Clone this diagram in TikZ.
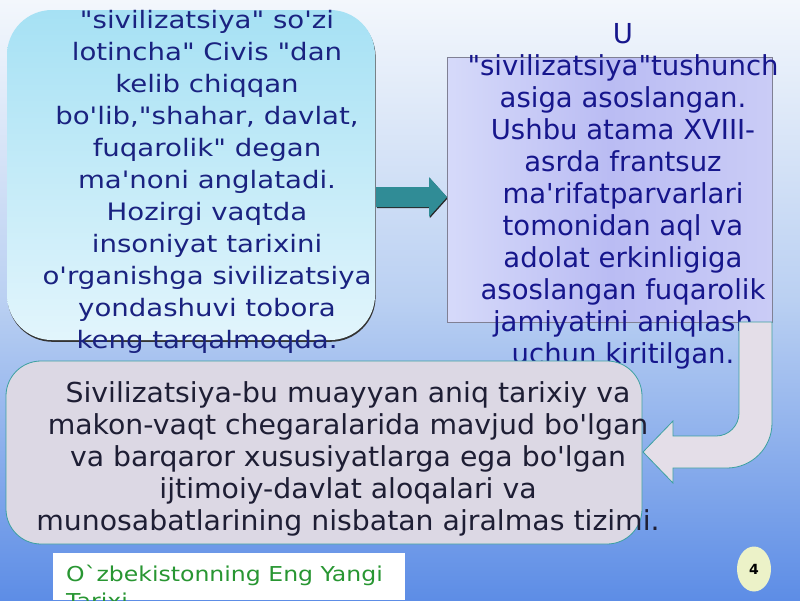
\documentclass[tikz,border=0pt]{standalone}
\usepackage{fontspec}
\newfontfamily\slidefont{DejaVu Sans}
\newfontfamily\widefont[FakeStretch=1.15]{DejaVu Sans}
\newfontfamily\bodyfont[FakeStretch=1.03]{DejaVu Sans}
\usetikzlibrary{shapes.geometric,shadows}

\definecolor{skytop}{RGB}{243,247,252}
\definecolor{skymid}{RGB}{186,208,242}
\definecolor{skybot}{RGB}{93,141,230}
\definecolor{cyantop}{RGB}{166,225,244}
\definecolor{cyanbot}{RGB}{226,245,252}
\definecolor{navy}{RGB}{26,34,128}
\definecolor{inkblue}{RGB}{22,22,140}
\definecolor{inkdark}{RGB}{30,30,52}
\definecolor{lavleft}{RGB}{214,218,250}
\definecolor{lavmid}{RGB}{186,188,243}
\definecolor{lavright}{RGB}{202,204,246}
\definecolor{arrowteal}{RGB}{48,140,150}
\definecolor{edgeteal}{RGB}{60,160,160}
\definecolor{greybox}{RGB}{220,216,228}
\definecolor{uturn}{RGB}{228,222,232}
\definecolor{footgreen}{RGB}{40,150,50}
\definecolor{pagedot}{RGB}{236,242,200}

\begin{document}
\begin{tikzpicture}[x=1pt, y=-1pt,
    leftbox/.style={rounded corners=45pt, top color=cyantop, bottom color=cyanbot,
        drop shadow={shadow xshift=0.6pt, shadow yshift=-1.8pt, fill=black!80, opacity=1}},
    rightbox/.style={left color=lavleft, right color=lavright, middle color=lavmid,
        draw={rgb,255:red,128;green,128;blue,148}, line width=0.8pt},
    bottombox/.style={rounded corners=35pt, fill=greybox, draw=edgeteal, line width=0.8pt},
    pusharrow/.style={fill=arrowteal,
        drop shadow={shadow xshift=0.8pt, shadow yshift=-1.2pt, fill=black!85, opacity=1}},
    uarrow/.style={fill=uturn, draw=edgeteal, line width=0.8pt},
    boxtext/.style={inner sep=0pt, align=center, anchor=north}]

    % slide background
    \useasboundingbox (0,0) rectangle (800,600);
    \shade[top color=skytop, bottom color=skybot, middle color=skymid] (0,0) rectangle (800,600);

    % left box
    \node (civis) [leftbox, minimum width=368pt, minimum height=330pt] at (191,175) {};
    \node (civistext) [boxtext, text=navy, font=\widefont\fontsize{24pt}{32pt}\selectfont] at (207,9.8)
        {"sivilizatsiya" so'zi\\
         lotincha" Civis "dan\\
         kelib chiqqan\\
         bo'lib,"shahar, davlat,\\
         fuqarolik" degan\\
         ma'noni anglatadi.\\
         Hozirgi vaqtda\\
         insoniyat tarixini\\
         o'rganishga sivilizatsiya\\
         yondashuvi tobora\\
         keng tarqalmoqda.};

    % arrow to the right box
    \path[pusharrow] (376,187) -- (429,187) -- (429,177) -- (447,197) -- (429,217) -- (429,207) -- (376,207) -- cycle;

    % right box
    \node (term) [rightbox, minimum width=325pt, minimum height=265pt] at (609.5,189.5) {};
    \node (termtext) [boxtext, text=inkblue, font=\slidefont\fontsize{27.5pt}{32pt}\selectfont] at (623,23)
        {U\\
         "sivilizatsiya"tushunch\\
         asiga asoslangan.\\
         Ushbu atama XVIII-\\
         asrda frantsuz\\
         ma'rifatparvarlari\\
         tomonidan aql va\\
         adolat erkinligiga\\
         asoslangan fuqarolik\\
         jamiyatini aniqlash\\
         uchun kiritilgan.};

    % turn-back arrow
    \draw[uarrow] (772,322) -- (772,423) arc[start angle=0, end angle=90, radius=45]
        -- (673,468) -- (673,483) -- (643,452) -- (673,421) -- (673,436) -- (716,436)
        arc[start angle=90, end angle=0, radius=23] -- (739,322) -- cycle;

    % bottom box
    \node (define) [bottombox, minimum width=636pt, minimum height=183pt] at (324,452.5) {};
    \node (definetext) [boxtext, text=inkdark, font=\bodyfont\fontsize{27.5pt}{32pt}\selectfont] at (348,381)
        {Sivilizatsiya-bu muayyan aniq tarixiy va\\
         makon-vaqt chegaralarida mavjud bo'lgan\\
         va barqaror xususiyatlarga ega bo'lgan\\
         ijtimoiy-davlat aloqalari va\\
         munosabatlarining nisbatan ajralmas tizimi.};

    % footer
    \node (footer) [fill=white, minimum width=352pt, minimum height=47pt, inner sep=0pt] at (229,576.5) {};
    \node (footertext) [inner sep=0pt, align=left, anchor=north west, text=footgreen,
        font=\widefont\fontsize{20.5pt}{27pt}\selectfont] at (66,564.4)
        {O`zbekistonning Eng Yangi\\Tarixi};

    % page number
    \node (pagenum) [ellipse, fill=pagedot, minimum width=34pt, minimum height=45pt, inner sep=0pt]
        at (754,569) {\slidefont\bfseries\fontsize{14pt}{14pt}\selectfont 4};
\end{tikzpicture}
\end{document}
